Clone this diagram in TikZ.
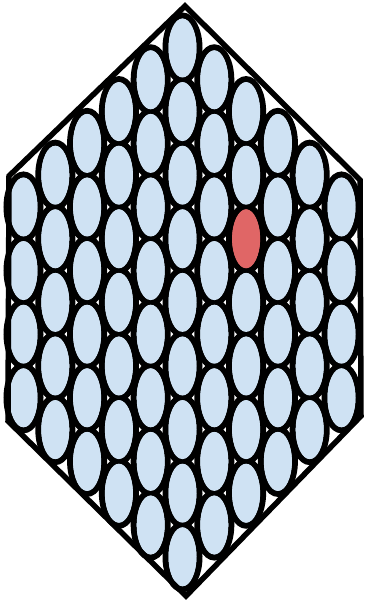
\documentclass[tikz,border=0pt]{standalone}
\usetikzlibrary{shapes.geometric}
\definecolor{cellblue}{HTML}{CFE2F3}
\definecolor{cellred}{HTML}{E06666}
\begin{document}
\begin{tikzpicture}[x=1pt,y=-1pt,
  cell/.style={ellipse,draw=black,line width=6pt,fill=cellblue,
    minimum width=34pt,minimum height=65pt,inner sep=0pt},
  hotcell/.style={cell,fill=cellred},
  frame/.style={draw=black,line width=5.5pt,line join=miter}]
\useasboundingbox (0,0) rectangle (365,602);
\foreach \c in {-5,...,5}{
  \pgfmathtruncatemacro{\ac}{abs(\c)}
  \pgfmathtruncatemacro{\n}{8-\ac}
  \foreach \r in {0,...,\n}{
    \pgfmathsetmacro{\xx}{182.5+31.8*\c}
    \pgfmathsetmacro{\yy}{48+31.8*\ac+63.6*\r}
    \ifnum\c=2 \ifnum\r=2
      \node[hotcell] (cell-\c-\r) at (\xx,\yy) {};
    \else
      \node[cell] (cell-\c-\r) at (\xx,\yy) {};
    \fi\else
      \node[cell] (cell-\c-\r) at (\xx,\yy) {};
    \fi
  }
}
\foreach \c in {-5,...,5}{
  \pgfmathtruncatemacro{\ac}{abs(\c)}
  \pgfmathtruncatemacro{\n}{8-\ac}
  \foreach \r in {0,...,\n}{
    \pgfmathsetmacro{\xx}{182.5+31.8*\c}
    \pgfmathsetmacro{\yy}{48+31.8*\ac+63.6*\r}
    \ifnum\c=2 \ifnum\r=2
      \fill[cellred] (\xx,\yy) ellipse [x radius=14pt,y radius=29.5pt];
    \else
      \fill[cellblue] (\xx,\yy) ellipse [x radius=14pt,y radius=29.5pt];
    \fi\else
      \fill[cellblue] (\xx,\yy) ellipse [x radius=14pt,y radius=29.5pt];
    \fi
  }
}
\coordinate (top) at (185,6);
\coordinate (ur) at (360,180);
\coordinate (lr) at (361,416);
\coordinate (bot) at (186,596);
\coordinate (ll) at (8,421);
\coordinate (ul) at (9,176);
\draw[frame] (top) -- (ur) -- (lr) -- (bot) -- (ll) -- (ul) -- cycle;
\end{tikzpicture}
\end{document}
